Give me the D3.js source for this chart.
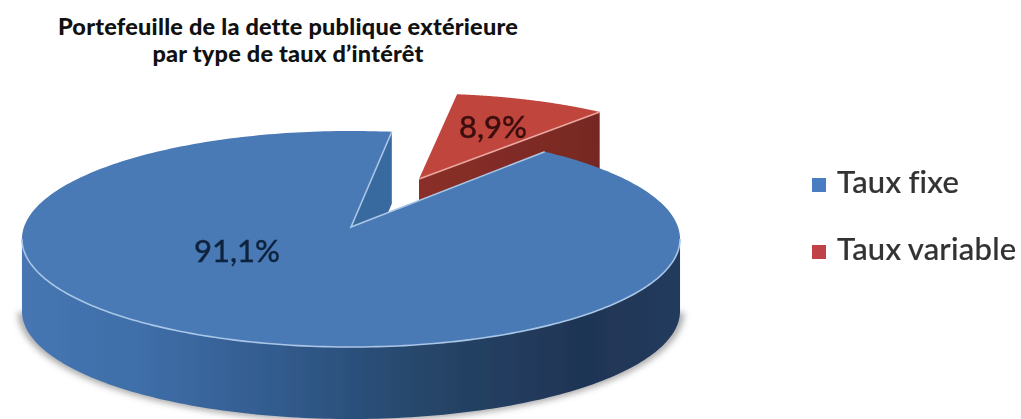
<!DOCTYPE html>
<html><head><meta charset="utf-8">
<script src="https://cdn.jsdelivr.net/npm/d3@7"></script>
<style>html,body{margin:0;background:#fff}svg{display:block}</style></head>
<body><svg id="c" width="1021" height="419"></svg>
<script>
const titleLines = ["Portefeuille de la dette publique extérieure", "par type de taux d’intérêt"];
const categories = ["Taux fixe", "Taux variable"];
const values = [91.1, 8.9];
const labels = ["91,1%", "8,9%"];
const topColors = ["#4a7ab6", "#bf453d"];
const legendColors = ["#4a7cc0", "#c0434a"];

const W = 1021, H = 419;
const svg = d3.select("#c").attr("viewBox", `0 0 ${W} ${H}`);
const defs = svg.append("defs");
defs.append("filter").attr("id","soft").append("feGaussianBlur").attr("stdDeviation",0.7);
defs.append("filter").attr("id","shadow").attr("x","-10%").attr("y","-10%").attr("width","120%").attr("height","120%")
  .append("feGaussianBlur").attr("stdDeviation",3);
const grad = defs.append("linearGradient").attr("id","wall").attr("gradientUnits","userSpaceOnUse")
  .attr("x1",24).attr("x2",678).attr("y1",0).attr("y2",0);
[[0,"#4676b2"],[0.18,"#3f6ea8"],[0.4,"#315a8c"],[0.62,"#264568"],[0.85,"#1f3555"],[1,"#223b5c"]]
  .forEach(([o,c])=>grad.append("stop").attr("offset",o).attr("stop-color",c));
const redGrad = defs.append("linearGradient").attr("id","redwall").attr("gradientUnits","userSpaceOnUse")
  .attr("x1",418).attr("x2",600).attr("y1",0).attr("y2",0);
[[0,"#8a2f29"],[1,"#762822"]].forEach(([o,c])=>redGrad.append("stop").attr("offset",o).attr("stop-color",c));

const rad = d => d*Math.PI/180;
const pie = d3.pie().sort(null).startAngle(rad(40)).endAngle(rad(400));
const [b, r] = pie(values);
const k = 0.111;
const project = (geo, dy=0) => a => {
  const d = 1 + k*Math.cos(a);
  return [geo.cx + geo.r*Math.sin(a)/d, geo.cy + dy - geo.s*Math.cos(a)/d];
};
const sample = (a0,a1,n=160) => d3.range(n+1).map(i=>a0+(a1-a0)*i/n);
const line = d3.line();
const depth = 72;
const full = 2*Math.PI;
const blue = {cx:351, cy:227, r:327, s:106.7};
const red  = {cx:419, cy:179, r:305, s:95};

const g = svg.append("g").attr("filter","url(#soft)");
const sil = Math.acos(-k);   // where the rim turns back, seen in perspective

// ground shadow
const baseP = project({...blue,r:331,s:108}, depth+1);
g.append("path").attr("d", line(sample(sil,full-sil).map(baseP))+"Z")
  .attr("fill","#8f8f8f").attr("opacity",.75).attr("filter","url(#shadow)");

// exploded slice
const pr = project(red), prb = project(red, depth);
const rEnd = r.endAngle-full, rStart = r.startAngle-full;
g.append("path").attr("d", line([[red.cx,red.cy],pr(rEnd),prb(rEnd),[red.cx,red.cy+depth]])+"Z")
  .attr("fill","url(#redwall)");
g.append("path").attr("d", line([[red.cx,red.cy],...sample(rStart,rEnd).map(pr)])+"Z")
  .attr("fill",topColors[1]);
g.append("path").attr("d", line([[red.cx,red.cy],pr(rEnd)])).attr("stroke","#e8a8a0").attr("stroke-width",1.5).attr("fill","none");

// main slice
const pb = project(blue), pbb = project(blue, depth);
const gapA = rStart;
g.append("path").attr("d", line([[blue.cx,blue.cy],pb(gapA),pbb(gapA),[blue.cx,blue.cy+depth]])+"Z").attr("fill","#396a9f");
const wallAngles = sample(sil,full-sil);
g.append("path").attr("d", line([...wallAngles.map(pb),...wallAngles.slice().reverse().map(pbb)])+"Z").attr("fill","url(#wall)");
g.append("path").attr("d", line([[blue.cx,blue.cy],...sample(b.startAngle,b.endAngle,300).map(pb)])+"Z").attr("fill",topColors[0]);
g.append("path").attr("d", line([pb(gapA),[blue.cx,blue.cy],pb(b.startAngle)])).attr("stroke","#a9c6e6").attr("stroke-width",1.6).attr("fill","none");
g.append("path").attr("d", line(sample(sil,full-sil).map(pb))).attr("stroke","#a9c6e6").attr("stroke-width",1.6).attr("fill","none");

// labels
const labelPos = [[237,262],[493,138]];
const tg = svg.append("g").attr("filter","url(#soft)");
tg.selectAll("text.v").data(labels).join("text").attr("class","v")
  .attr("x",(d,i)=>labelPos[i][0]).attr("y",(d,i)=>labelPos[i][1])
  .attr("text-anchor","middle").attr("font-family","Lato").attr("font-size",31).attr("font-weight",500)
  .attr("stroke",(d,i)=>i?"#3a0d0c":"#10233d").attr("stroke-width",0.3)
  .attr("fill",(d,i)=>i?"#3a0d0c":"#10233d").text(d=>d);

// legend
const ly = d3.scalePoint().domain(categories).range([185,252]);
const lg = svg.append("g").attr("filter","url(#soft)");
lg.selectAll("rect").data(categories).join("rect").attr("x",812).attr("y",d=>ly(d)-7).attr("width",14).attr("height",14)
  .attr("fill",(d,i)=>legendColors[i]);
lg.selectAll("text").data(categories).join("text").attr("x",837).attr("y",d=>ly(d)+8)
  .attr("font-family","Lato").attr("font-size",31).attr("font-weight",500).attr("word-spacing",-1)
  .attr("letter-spacing",0.25).attr("stroke","#333").attr("stroke-width",0.2).attr("fill","#333").text(d=>d);

// title
svg.selectAll("text.t").data(titleLines).join("text").attr("class","t")
  .attr("x",288).attr("y",(d,i)=>35+i*27).attr("text-anchor","middle")
  .attr("font-family","Lato").attr("font-weight",900).attr("font-size",23.5).attr("letter-spacing",0.22).attr("fill","#111").text(d=>d);
</script></body></html>
